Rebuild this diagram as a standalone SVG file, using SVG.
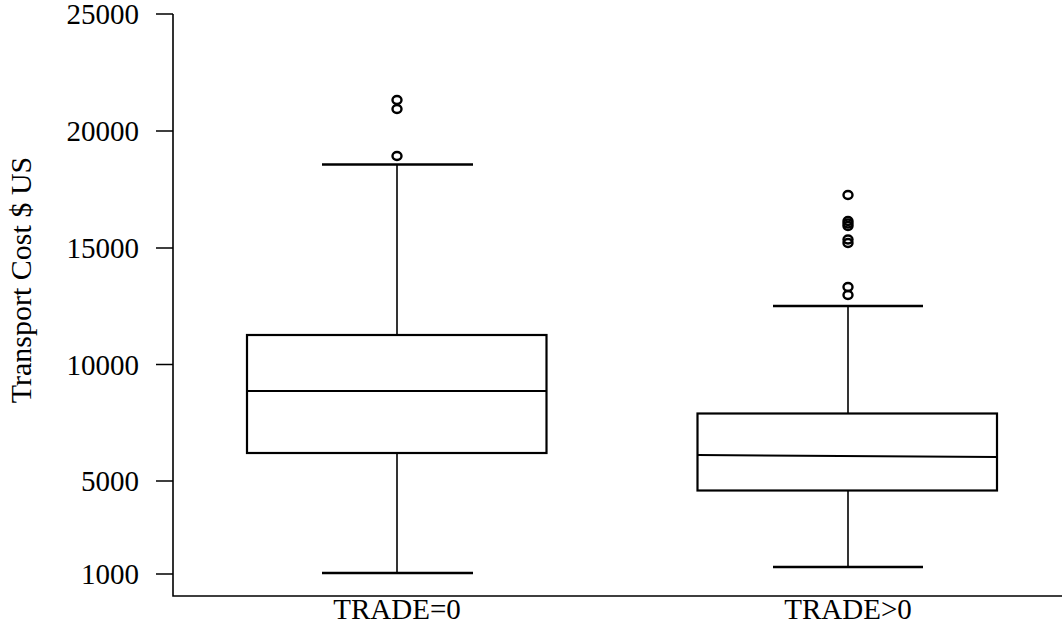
<svg xmlns="http://www.w3.org/2000/svg" width="1062" height="624" viewBox="0 0 1062 624">
<style>
text{font-family:"Liberation Serif","Times New Roman",serif;font-size:29px;fill:#000}
.tick{text-anchor:end}
.title{font-size:30px}
.ax{stroke:#000;stroke-width:1.6;fill:none}
.box{stroke:#000;stroke-width:2.2;fill:#fff}
.wh{stroke:#000;stroke-width:1.6}
.cap{stroke:#000;stroke-width:2.4}
.med{stroke:#000;stroke-width:2}
.out{stroke:#000;stroke-width:2.4;fill:none}
</style>
<rect width="1062" height="624" fill="#fff"/>
<g id="axes">
<path class="ax" d="M173 14 V596 H1062"/>
<path class="ax" d="M156 14 H173 M156 131 H173 M156 248 H173 M156 364.5 H173 M156 481 H173 M156 574 H173"/>
<text class="tick" x="139" y="24">25000</text>
<text class="tick" x="139" y="141">20000</text>
<text class="tick" x="139" y="258">15000</text>
<text class="tick" x="139" y="374.5">10000</text>
<text class="tick" x="139" y="491">5000</text>
<text class="tick" x="139" y="584">1000</text>
<text x="397" y="619" text-anchor="middle">TRADE=0</text>
<text x="848" y="619" text-anchor="middle">TRADE&gt;0</text>
<text class="title" transform="translate(31 280) rotate(-90)" text-anchor="middle">Transport Cost $ US</text>
</g>
<g id="box-trade0">
<line class="wh" x1="397" y1="165" x2="397" y2="335"/>
<line class="wh" x1="397" y1="453" x2="397" y2="573"/>
<line class="cap" x1="322" y1="164.5" x2="473" y2="164.5"/>
<line class="cap" x1="322" y1="573" x2="473" y2="573"/>
<rect class="box" x="247" y="335" width="299.5" height="118"/>
<line class="med" x1="247" y1="391" x2="546.5" y2="391"/>
<ellipse class="out" cx="397" cy="100" rx="4.5" ry="4"/>
<ellipse class="out" cx="397" cy="109" rx="4.5" ry="4"/>
<ellipse class="out" cx="397" cy="156" rx="4.5" ry="4"/>
</g>
<g id="box-trade-pos">
<line class="wh" x1="848" y1="306" x2="848" y2="413.5"/>
<line class="wh" x1="848" y1="490.5" x2="848" y2="567"/>
<line class="cap" x1="773" y1="306" x2="923" y2="306"/>
<line class="cap" x1="773" y1="567" x2="923" y2="567"/>
<rect class="box" x="697.5" y="413.5" width="299.5" height="77"/>
<line class="med" x1="697.5" y1="455" x2="997" y2="457"/>
<ellipse class="out" cx="848" cy="195" rx="4.5" ry="4"/>
<ellipse class="out" cx="848" cy="221" rx="4.5" ry="4"/>
<ellipse class="out" cx="848" cy="223.5" rx="4.5" ry="4"/>
<ellipse class="out" cx="848" cy="226" rx="4.5" ry="4"/>
<ellipse class="out" cx="848" cy="239.5" rx="4.5" ry="4"/>
<ellipse class="out" cx="848" cy="243" rx="4.5" ry="4"/>
<ellipse class="out" cx="848" cy="287" rx="4.5" ry="4"/>
<ellipse class="out" cx="848" cy="295" rx="4.5" ry="4"/>
</g>
</svg>
